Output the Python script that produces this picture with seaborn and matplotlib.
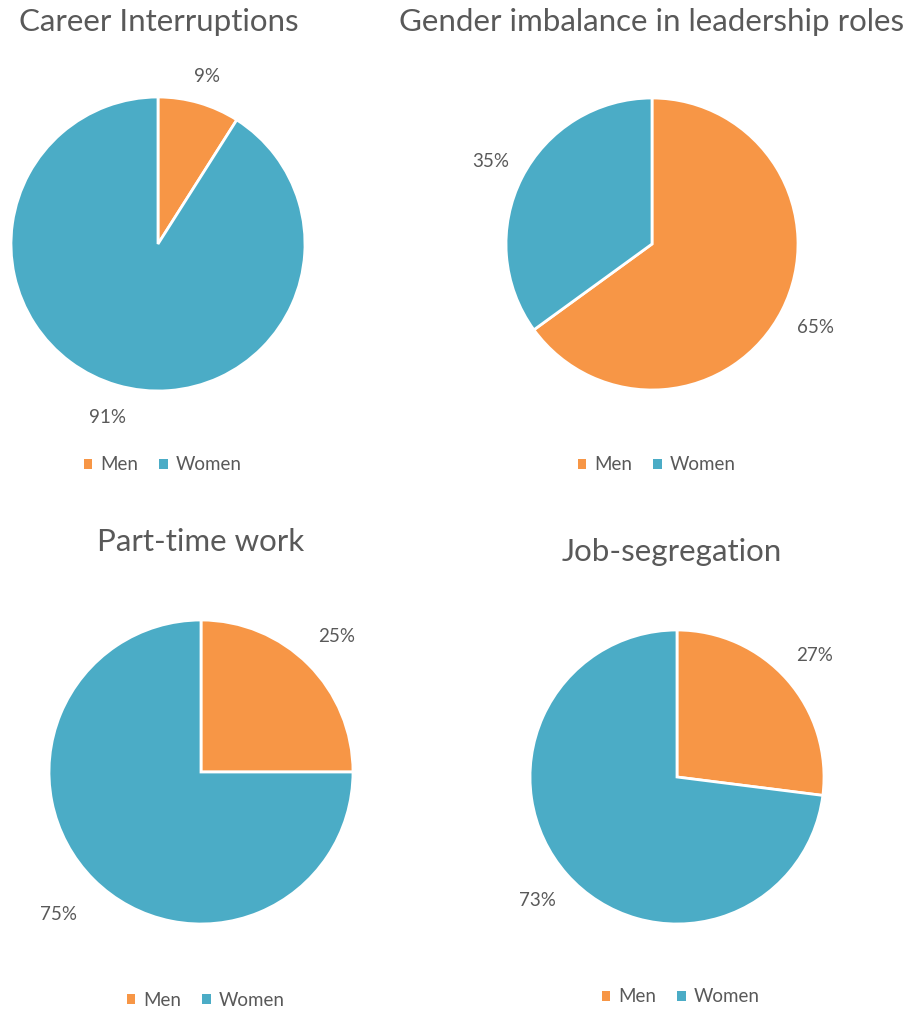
import matplotlib
matplotlib.use("Agg")
import numpy as np
import matplotlib.pyplot as plt
from matplotlib.patches import Patch
import seaborn as sns

# Survey shares (percent) for each topic: men first, then women
titles = ["Career Interruptions", "Gender imbalance in leadership roles",
          "Part-time work", "Job-segregation"]
groups = ["Men", "Women"]
career_interruptions = [9, 91]
leadership_roles = [65, 35]
part_time_work = [25, 75]
job_segregation = [27, 73]
shares = [career_interruptions, leadership_roles, part_time_work, job_segregation]

sns.set_theme(style="white")
plt.rcParams["font.family"] = ["Lato", "DejaVu Sans"]
colors = ["#F79646", "#4BACC6"]
text_color = "#595959"

W, H = 907, 1011
fig = plt.figure(figsize=(W / 100, H / 100), dpi=100)
fig.patch.set_facecolor("white")

# layout in pixels: pie centre, radius, title centre, legend centre,
# and radial distance (in radii) of each percentage label
layout = [
    dict(c=(158, 244), r=147, t=(159, 22), l=(163, 465), d=(1.19, 1.23)),
    dict(c=(652, 244), r=146, t=(652, 22), l=(657, 465), d=(1.26, 1.24)),
    dict(c=(201, 772), r=152, t=(201, 542), l=(206, 1000), d=(1.26, 1.33)),
    dict(c=(677, 777), r=147, t=(672, 552), l=(681, 997), d=(1.25, 1.27)),
]


def fx(x):
    return x / W


def fy(y):
    return 1 - y / H


for title, vals, lay in zip(titles, shares, layout):
    cx, cy = lay["c"]
    r = lay["r"]
    ax = fig.add_axes([fx(cx - r), fy(cy + r), 2 * r / W, 2 * r / H])
    wedges, _, autotexts = ax.pie(
        vals, colors=colors, startangle=90, counterclock=False,
        autopct=lambda p: f"{p:.0f}%", pctdistance=1.2,
        wedgeprops=dict(edgecolor="white", linewidth=2),
        textprops=dict(color=text_color, fontsize=13.5))
    # push each percentage label out along its wedge's mid-angle
    for w, t, d in zip(wedges, autotexts, lay["d"]):
        ang = np.deg2rad((w.theta1 + w.theta2) / 2)
        t.set_position((d * np.cos(ang), d * np.sin(ang)))
    ax.set_xlim(-1, 1)
    ax.set_ylim(-1, 1)
    ax.set_aspect("auto")
    ax.axis("off")

    tx, ty = lay["t"]
    fig.text(fx(tx), fy(ty), title, ha="center", va="center",
             fontsize=22.5, color=text_color)

    lx, ly = lay["l"]
    handles = [Patch(facecolor=c, edgecolor="none", label=g)
               for c, g in zip(colors, groups)]
    fig.legend(handles=handles, loc="center", ncol=2,
               bbox_to_anchor=(fx(lx), fy(ly)), frameon=False,
               fontsize=13.5, labelcolor=text_color,
               handlelength=0.45, handleheight=0.45, handletextpad=0.45,
               columnspacing=1.1)

fig.savefig("out.png", dpi=100, facecolor="white")
